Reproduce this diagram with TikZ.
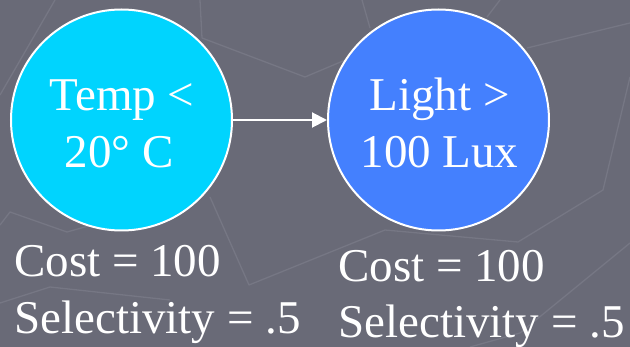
\documentclass[tikz,border=0pt]{standalone}
\usepackage{fontspec}
\setmainfont{Liberation Serif}
\usetikzlibrary{arrows.meta}
\definecolor{bgc}{HTML}{696A77}
\definecolor{bgline}{HTML}{767784}
\definecolor{cyanfill}{HTML}{00D4FE}
\definecolor{bluefill}{HTML}{4480FE}
\begin{document}
\begin{tikzpicture}[x=1pt,y=-1pt,
  pred/.style={circle, minimum size=221pt, inner sep=0pt, draw=white, line width=2pt},
  txt/.style={text=white, font=\fontsize{47}{57}\selectfont, inner sep=0pt},
  bgl/.style={draw=bgline, line width=1.3pt, line join=round},
  conn/.style={draw=white, line width=2pt, -{Triangle[length=15pt,width=15pt]}}]
\fill[bgc] (0,0) rectangle (630,347);
\useasboundingbox (0,0) rectangle (630,347);
% faint background lines
\path[bgl] (55,0) -- (0,95);
\path[bgl] (200,0) -- (202,38) -- (305,77) -- (350,58);
\path[bgl] (527,48) -- (630,23);
\path[bgl] (362,0) -- (370,28);
\path[bgl] (487,17) -- (500,0);
\path[bgl] (630,77) -- (603,190) -- (518,242) -- (385,230) -- (249,285) -- (210,197);
\path[bgl] (0,225) -- (10,212) -- (67,232) -- (110,220);
\path[bgl] (0,303) -- (50,287) -- (170,300);
\path[bgl] (630,243) -- (520,333) -- (470,347);
% predicate circles
\node[pred, fill=cyanfill] (temp) at (121.5,120) {};
\node[pred, fill=bluefill] (light) at (438.5,120) {};
\path[conn] (temp) -- (light);
% labels inside
\node[txt, anchor=base] (t1) at (122,111) {Temp <};
\node[txt, anchor=base] (t2) at (119,168) {20° C};
\node[txt, anchor=base] (l1) at (439.5,111) {Light >};
\node[txt, anchor=base] (l2) at (439.5,168) {100 Lux};
% cost / selectivity
\node[txt, anchor=base west] (c1) at (14,277) {Cost = 100};
\node[txt, anchor=base west] (s1) at (14,334) {Selectivity = .5};
\node[txt, anchor=base west] (c2) at (338,282) {Cost = 100};
\node[txt, anchor=base west] (s2) at (338,338) {Selectivity = .5};
\end{tikzpicture}
\end{document}
